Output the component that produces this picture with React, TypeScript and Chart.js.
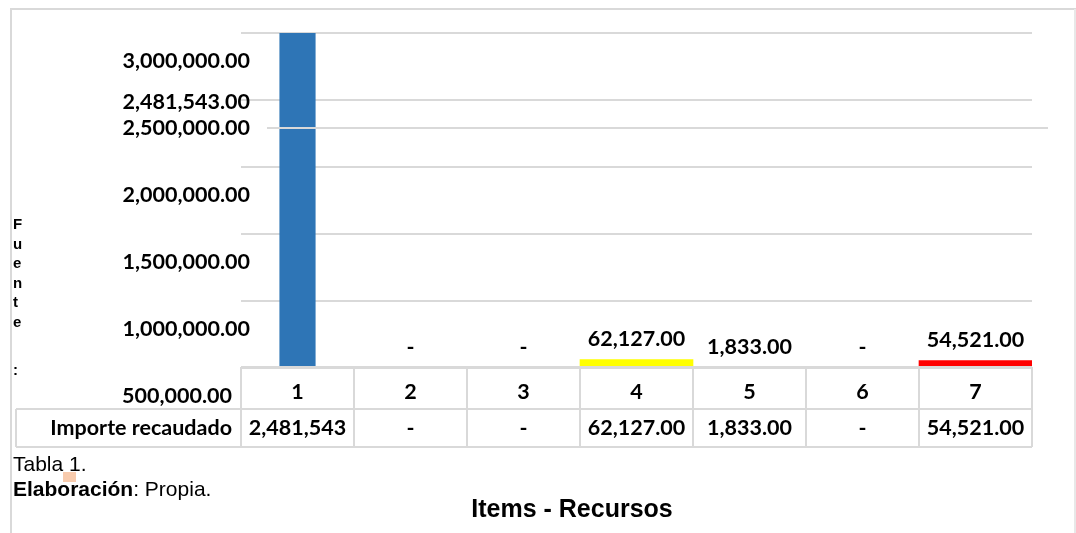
import React, { useEffect, useRef } from "react";
import { Chart, registerables } from "chart.js";

Chart.register(...registerables);

// ---- data ----
const categories = ["1", "2", "3", "4", "5", "6", "7"];
const values = [2481543, 0, 0, 62127, 1833, 0, 54521];
const tableValueLabels = ["2,481,543", "-", "-", "62,127.00", "1,833.00", "-", "54,521.00"];
const seriesName = "Importe recaudado";
const yMin = 500000;
const yMax = 3000000;
const yStep = 500000;
const xTitle = "Items - Recursos";
const sideNote = "Fuente:";
const noteLine1 = "Tabla 1.";
const noteBold = "Elaboración";
const noteRest = ": Propia.";

// ---- styles ----
const barColors = ["#2E75B6", "#2E75B6", "#2E75B6", "#FFFF00", "#70AD47", "#2E75B6", "#FF0000"];
const barWidthFrac = [0.32, 1, 1, 1, 1, 1, 1];
const GRID = "#d9d9d9";
const CAL = "Lato, 'Open Sans', sans-serif";
const ARIAL = "'Liberation Sans', Arial, sans-serif";
const LABEL_SIZE = 21.5;
const LABEL_OFFSET = 28;

const fmt = (v: number) =>
  v === 0 ? "-" : v.toLocaleString("en-US", { minimumFractionDigits: 2, maximumFractionDigits: 2 });

const decorPlugin = {
  id: "decor",
  afterDraw(chart: any) {
    const ctx = chart.ctx as CanvasRenderingContext2D;
    const area = chart.chartArea;
    const xs = chart.scales.x;
    const ys = chart.scales.y;
    const y2 = chart.scales.y2;
    const colW = (area.right - area.left) / categories.length;
    ctx.save();

    // frame
    ctx.strokeStyle = GRID;
    ctx.lineWidth = 2;
    ctx.beginPath();
    ctx.moveTo(11, 533);
    ctx.lineTo(11, 9);
    ctx.lineTo(1076, 9);
    ctx.stroke();
    ctx.strokeStyle = "#e8e8e8";
    ctx.beginPath();
    ctx.moveTo(1075, 9);
    ctx.lineTo(1075, 533);
    ctx.stroke();

    // stray line at the 2,500,000 label row
    const strayY = ys.getPixelForValue(2500000) + LABEL_OFFSET;
    ctx.strokeStyle = GRID;
    ctx.beginPath();
    ctx.moveTo(267, strayY);
    ctx.lineTo(1048, strayY);
    ctx.stroke();

    // y tick labels (shifted below their grid lines, as in the reference)
    ctx.fillStyle = "#000";
    ctx.font = `bold ${LABEL_SIZE}px ${CAL}`;
    ctx.textAlign = "right";
    ctx.textBaseline = "middle";
    ys.ticks.forEach((t: any) => {
      const y = ys.getPixelForValue(t.value) + LABEL_OFFSET;
      const xr = t.value === yMin ? area.left - 9 : area.left + 9;
      ctx.fillText(fmt(t.value), xr, y);
    });

    // value label of bar 1 on the axis side
    ctx.fillText(fmt(values[0]), area.left + 9, ys.getPixelForValue(values[0]));

    // data labels above bars
    ctx.textAlign = "center";
    for (let i = 1; i < values.length; i++) {
      const x = xs.getPixelForValue(i);
      const y = y2.getPixelForValue(values[i]) - 21;
      ctx.fillText(fmt(values[i]), x, y);
    }

    // data table
    const top = 367;
    const mid = 409;
    const bot = 447;
    const left0 = 16;
    ctx.strokeStyle = GRID;
    ctx.lineWidth = 2;
    ctx.beginPath();
    ctx.moveTo(area.left, top);
    ctx.lineTo(area.right, top);
    ctx.moveTo(left0, mid);
    ctx.lineTo(area.right, mid);
    ctx.moveTo(left0, bot);
    ctx.lineTo(area.right, bot);
    ctx.moveTo(left0, mid);
    ctx.lineTo(left0, bot);
    for (let k = 0; k <= categories.length; k++) {
      const x = area.left + k * colW;
      ctx.moveTo(x, top);
      ctx.lineTo(x, bot);
    }
    ctx.stroke();

    ctx.fillStyle = "#000";
    ctx.font = `bold ${LABEL_SIZE}px ${CAL}`;
    ctx.textAlign = "center";
    ctx.textBaseline = "middle";
    categories.forEach((c, i) => {
      const x = xs.getPixelForValue(i);
      ctx.fillText(c, x, (top + mid) / 2 + 4);
      ctx.fillText(tableValueLabels[i], x, (mid + bot) / 2);
    });
    ctx.textAlign = "right";
    ctx.fillText(seriesName, area.left - 9, (mid + bot) / 2);

    // vertical "Fuente:"
    ctx.font = `bold 15px ${ARIAL}`;
    ctx.textAlign = "left";
    ctx.textBaseline = "alphabetic";
    sideNote.split("").forEach((ch, i) => {
      let y = 229 + i * 19.5;
      if (ch === ":") y += 29;
      ctx.fillText(ch, 13, y);
    });

    // notes below
    ctx.font = `21px ${ARIAL}`;
    ctx.fillText(noteLine1, 13, 471);
    ctx.font = `bold 21px ${ARIAL}`;
    ctx.fillText(noteBold, 13, 496);
    const w = ctx.measureText(noteBold).width;
    ctx.font = `21px ${ARIAL}`;
    ctx.fillText(noteRest, 13 + w, 496);
    ctx.fillStyle = "#F8CBAD";
    ctx.fillRect(63, 472, 13, 10);

    // x title
    ctx.fillStyle = "#000";
    ctx.font = `bold 25px ${ARIAL}`;
    ctx.textAlign = "center";
    ctx.fillText(xTitle, 572, 517);

    ctx.restore();
  },
};

export default function App() {
  const ref = useRef<HTMLCanvasElement | null>(null);
  useEffect(() => {
    if (!ref.current) return;
    const narrow = values.map((v, i) => (barWidthFrac[i] < 1 ? v : null));
    const wide = values.map((v, i) => (barWidthFrac[i] < 1 ? null : v));
    const chart = new Chart(ref.current, {
      type: "bar",
      data: {
        labels: categories,
        datasets: [
          {
            label: seriesName,
            data: narrow,
            backgroundColor: barColors,
            yAxisID: "y2",
            grouped: false,
            barPercentage: barWidthFrac[0],
            categoryPercentage: 1,
          } as any,
          {
            label: seriesName,
            data: wide,
            backgroundColor: barColors,
            yAxisID: "y2",
            grouped: false,
            barPercentage: 1,
            categoryPercentage: 1,
          } as any,
        ],
      },
      options: {
        responsive: false,
        animation: false,
        devicePixelRatio: 1,
        layout: { padding: { left: 0, top: 33, right: 44, bottom: 165 } },
        plugins: { legend: { display: false }, tooltip: { enabled: false } },
        scales: {
          x: { display: false, grid: { display: false } },
          y: {
            position: "left",
            min: yMin,
            max: yMax,
            border: { display: false },
            grid: { color: GRID, lineWidth: 2, drawTicks: false },
            ticks: {
              display: false,
              stepSize: yStep,
            },
            afterFit: (s: any) => {
              s.width = 241;
            },
          },
          y2: {
            display: false,
            min: 0,
            max: Math.max(...values),
          },
        },
      } as any,
      plugins: [decorPlugin],
    });
    return () => chart.destroy();
  }, []);
  return (
    <div style={{ position: "fixed", left: 0, top: 0, width: 1076, height: 533, background: "#fff" }}>
      <canvas ref={ref} width={1076} height={533} />
    </div>
  );
}
